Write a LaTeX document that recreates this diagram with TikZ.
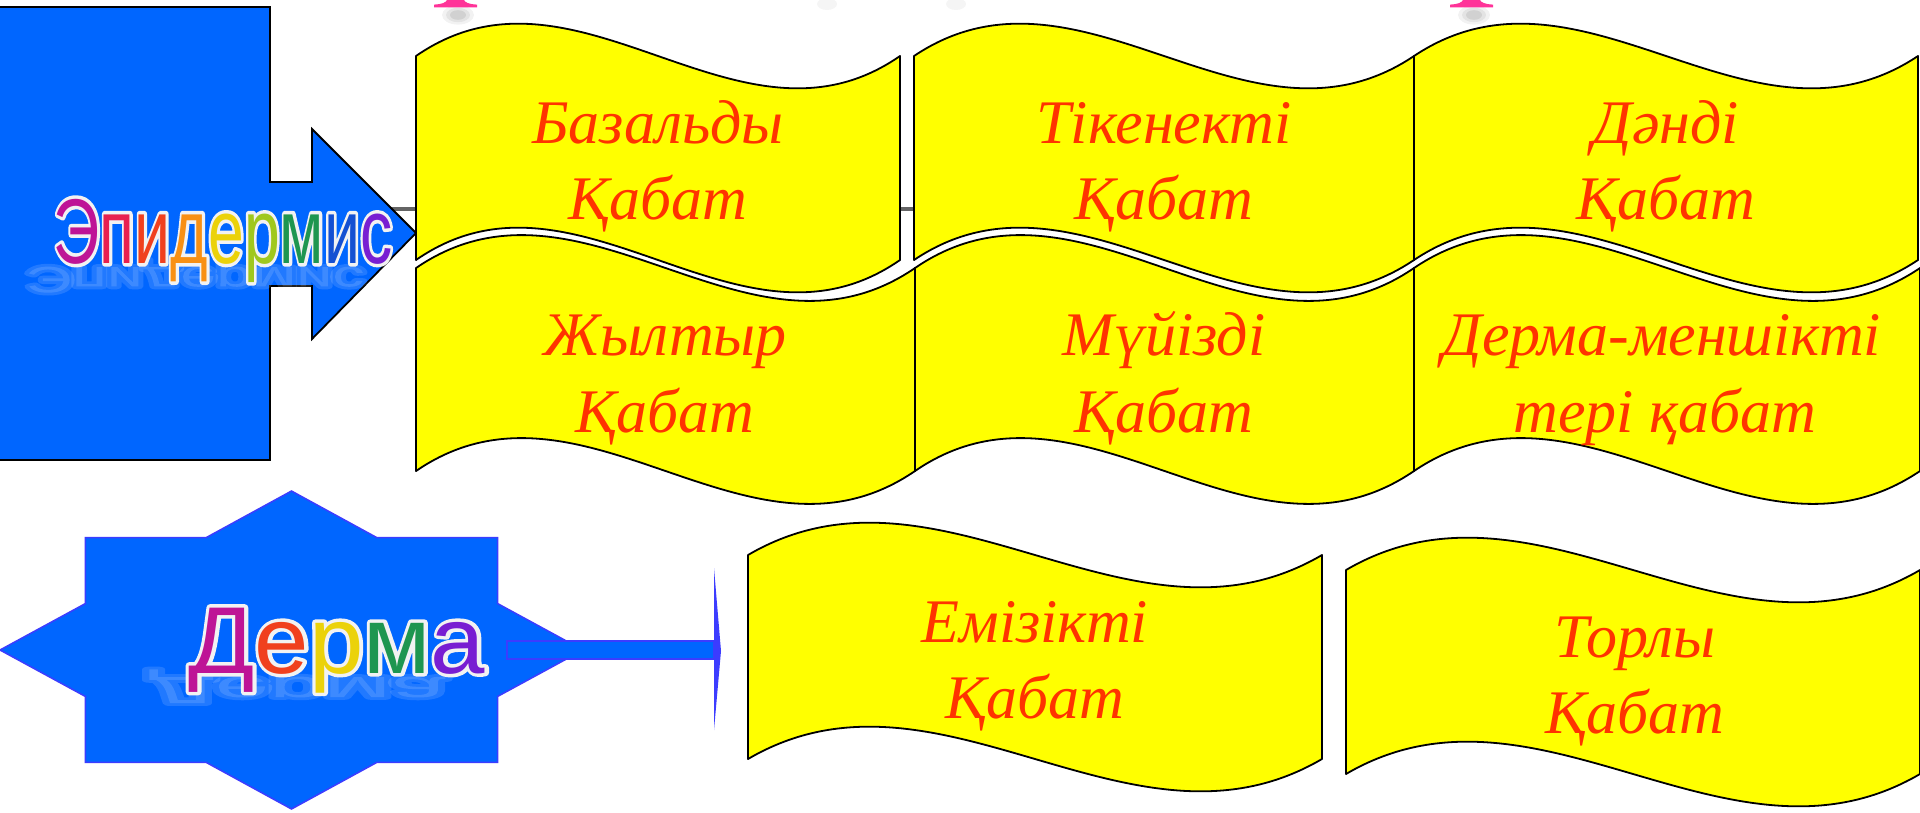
\documentclass[tikz,border=0pt]{standalone}
\usepackage{fontspec}
\usepackage{graphicx}
\newfontfamily\bfont{Liberation Serif}
\newfontfamily\sfont{Liberation Sans}
\usetikzlibrary{calc}
\definecolor{byellow}{RGB}{255,255,0}
\definecolor{bannerred}{RGB}{255,51,0}
\definecolor{pblue}{RGB}{0,102,255}
\definecolor{vblue}{RGB}{60,60,255}
\definecolor{lgrey}{RGB}{100,100,100}
\definecolor{tpink}{RGB}{255,51,153}
\definecolor{olwhite}{RGB}{242,242,242}
\definecolor{ca}{RGB}{190,20,150}
\definecolor{cb}{RGB}{232,32,80}
\definecolor{cc}{RGB}{240,64,30}
\definecolor{cd}{RGB}{248,144,20}
\definecolor{ce}{RGB}{235,210,10}
\definecolor{cf}{RGB}{160,200,30}
\definecolor{cg}{RGB}{30,150,80}
\definecolor{ch}{RGB}{20,80,210}
\definecolor{ci}{RGB}{120,30,210}
\newcommand\trstroke[1]{\special{pdf:literal direct 1 j #1 w 1 Tr}}
\newcommand\trboth[1]{\special{pdf:literal direct 1 j #1 w 2 Tr}}
\newcommand\trfill{\special{pdf:literal direct 0 Tr}}
\newcommand\epiword[9]{\textcolor{#1}{Э}\textcolor{#2}{п}\textcolor{#3}{и}\textcolor{#4}{д}\textcolor{#5}{е}\textcolor{#6}{р}\textcolor{#7}{м}\textcolor{#8}{и}\textcolor{#9}{с}}
\newcommand\dermaword[5]{\textcolor{#1}{Д}\textcolor{#2}{е}\textcolor{#3}{р}\textcolor{#4}{м}\textcolor{#5}{а}}
\newcommand\wavebanner[6]{%
  \pgfmathsetmacro\wbA{#2+(#3-#2)/3}%
  \pgfmathsetmacro\wbB{#2+2*(#3-#2)/3}%
  \draw[banner] (#2,#4) .. controls (\wbA,#4-#6) and (\wbB,#4+#6) .. (#3,#4)
     -- (#3,#5) .. controls (\wbB,#5+#6) and (\wbA,#5-#6) .. (#2,#5) -- cycle;
  \coordinate (#1) at ({(#2+#3)/2},{(#4+#5)/2});
}
\begin{document}
\begin{tikzpicture}[x=1pt,y=-1pt,
  banner/.style={fill=byellow, draw=black, line width=1.8pt, line join=round},
  btext/.style={font=\bfont\itshape\fontsize{62}{62}\selectfont, text=bannerred, anchor=base, inner sep=0pt},
  rbepi/.style={font=\sfont\fontsize{92}{92}\selectfont, anchor=base, inner sep=0pt},
  rbderma/.style={font=\sfont\fontsize{95}{95}\selectfont, anchor=base, inner sep=0pt},
  bluebox/.style={fill=pblue, draw=black, line width=1.8pt, line join=miter},
  starbox/.style={fill=pblue, draw=vblue, line width=1.5pt, line join=miter},
]
\useasboundingbox (0,0) rectangle (1920,812);
\fill[white] (0,0) rectangle (1920,812);

% title fragments at the top edge
\foreach \cx/\nm in {456/ta, 1472/tb} {
  \foreach \r/\o in {16/0.05, 12/0.06, 8/0.08} {
    \fill[black, opacity=\o] (\cx+2,15) ellipse ({\r} and {0.6*\r});
  }
  \fill[tpink] (\cx-22,7.3) -- (\cx+21,7.3) -- (\cx+21,4.6)
     .. controls (\cx+13,4.2) and (\cx+9,2.5) .. (\cx+8,0) -- (\cx-9,0)
     .. controls (\cx-10,2.5) and (\cx-14,4.2) .. (\cx-22,4.6) -- cycle;
  \coordinate (\nm) at (\cx,3);
}
\foreach \cx in {827,956} {
  \fill[black, opacity=0.04] (\cx,4) ellipse (10 and 6);
}

% grey line behind the banners
\coordinate (gl1) at (300,209);
\coordinate (gl2) at (1420,209);
\draw[lgrey, line width=4.5pt] (gl1) -- (gl2);

% Epidermis arrow callout
\draw[bluebox] (-2,7) -- (270,7) -- (270,182) -- (312,182) -- (312,129) -- (416,233)
   -- (312,339) -- (312,286) -- (270,286) -- (270,460) -- (-2,460) -- cycle;
\coordinate (epi) at (223,263);

% banners, rows 1 and 2
\wavebanner{b1}{416}{900}{56}{260}{112}
\wavebanner{b2}{914}{1414}{56}{260}{112}
\wavebanner{b3}{1414}{1918}{56}{260}{112}
\wavebanner{b4}{416}{915}{268}{471}{114}
\wavebanner{b5}{915}{1414}{268}{471}{114}
\wavebanner{b6}{1414}{1920}{268}{471}{114}
% banners, row 3
\wavebanner{b7}{748}{1322}{555}{759}{112}
\wavebanner{b8}{1346}{1920}{570}{774}{112}

% Derma star
\draw[starbox] (583,650) -- (497.5,603.5) -- (497.6,537.6) -- (376.8,537.6) -- (291.5,491)
  -- (206.2,537.6) -- (85.4,537.6) -- (85.5,603.5) -- (0,650) -- (85.5,696.5)
  -- (85.4,762.4) -- (206.2,762.4) -- (291.5,809) -- (376.8,762.4) -- (497.6,762.4)
  -- (497.5,696.5) -- cycle;
\coordinate (derma) at (337,673);

% Derma block arrow
\draw[fill=pblue, draw=vblue, line width=1.5pt] (507,641) rectangle (714,659);
\fill[vblue] (714,568) -- (721,651) -- (714,730) -- cycle;

% rainbow words: soft, blurred reflections
\node[rbepi, text=white, opacity=0.13] (epirefl) at ($(epi)+(-28,4)$)
  {\trboth{14}\scalebox{0.70}[-0.4]{Эпидермис}\trfill};
\node[rbderma, text=white, opacity=0.13] (dermarefl) at ($(derma)+(-40,4)$)
  {\trboth{14}\scalebox{1.03}[-0.4]{Дерма}\trfill};

% rainbow words: white outline, then coloured letters
\node[rbepi] (epiline) at (epi)
  {\trstroke{7}\scalebox{0.70}[1]{\epiword{olwhite}{olwhite}{olwhite}{olwhite}{olwhite}{olwhite}{olwhite}{olwhite}{olwhite}}\trfill};
\node[rbepi] (epitext) at (epi)
  {\scalebox{0.70}[1]{\epiword{ca}{cb}{cc}{cd}{ce}{cf}{cg}{ch}{ci}}};
\node[rbderma] (dermaline) at (derma)
  {\trstroke{7}\scalebox{1.03}[1]{\dermaword{olwhite}{olwhite}{olwhite}{olwhite}{olwhite}}\trfill};
\node[rbderma] (dermatext) at (derma)
  {\scalebox{1.03}[1]{\dermaword{ca}{cc}{ce}{cg}{ci}}};

% banner texts
\node[btext] (t1a) at (658,143) {Базальды};
\node[btext] (t1b) at (658,219) {Қабат};
\node[btext] (t2a) at (1164,143) {Тікенекті};
\node[btext] (t2b) at (1164,219) {Қабат};
\node[btext] (t3a) at (1666,143) {Дәнді};
\node[btext] (t3b) at (1666,219) {Қабат};
\node[btext] (t4a) at (665,355) {Жылтыр};
\node[btext] (t4b) at (665,432) {Қабат};
\node[btext] (t5a) at (1164,355) {Мүйізді};
\node[btext] (t5b) at (1164,432) {Қабат};
\node[btext] (t6a) at (1662,355) {Дерма-меншікті};
\node[btext] (t6b) at (1665,432) {тері қабат};
\node[btext] (t7a) at (1035,642) {Емізікті};
\node[btext] (t7b) at (1035,718) {Қабат};
\node[btext] (t8a) at (1635,657) {Торлы};
\node[btext] (t8b) at (1635,733) {Қабат};
\end{tikzpicture}
\end{document}
